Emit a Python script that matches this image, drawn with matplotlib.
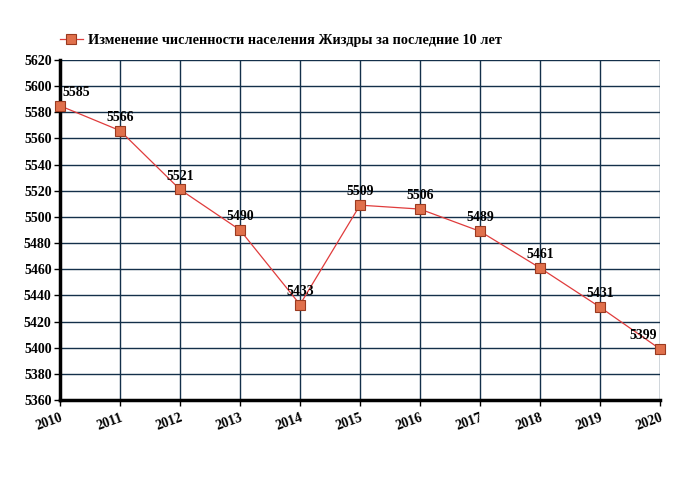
import matplotlib.pyplot as plt

years = [2010, 2011, 2012, 2013, 2014, 2015, 2016, 2017, 2018, 2019, 2020]
population = [5585, 5566, 5521, 5490, 5433, 5509, 5506, 5489, 5461, 5431, 5399]
series_name = "Изменение численности населения Жиздры за последние 10 лет"

plt.rcParams['font.family'] = ['Liberation Serif', 'DejaVu Serif']
plt.rcParams['font.weight'] = 'bold'

fig = plt.figure(figsize=(6.8, 5), dpi=100)
ax = fig.add_axes([60 / 680, 0.2, 600 / 680, 0.68])

ax.plot(years, population, color='#e03c3c', linewidth=0.9, marker='s',
        markersize=6.5, markerfacecolor='#e0704c', markeredgecolor='#9a3a20',
        markeredgewidth=0.8, label=series_name, zorder=3, clip_on=False)

for i, (x, y) in enumerate(zip(years, population)):
    ha = 'center'
    dx = 0
    if i == 0:
        ha = 'left'
        dx = 2
    elif i == len(years) - 1:
        ha = 'right'
        dx = -2
    ax.annotate(str(y), (x, y), xytext=(dx, 5), textcoords='offset points',
                ha=ha, va='bottom', fontsize=10, fontweight='bold', zorder=4)

ax.set_xlim(2010, 2020)
ax.set_ylim(5360, 5620)
ax.set_xticks(years)
ax.set_yticks(range(5360, 5621, 20))
ax.set_xticklabels([str(y) for y in years], rotation=20, ha='right',
                   rotation_mode='anchor', fontsize=10, fontweight='bold')
ax.tick_params(axis='y', labelsize=10, length=4, width=1, pad=2)
ax.tick_params(axis='x', length=4, width=1, pad=4)

ax.grid(True, color='#14304a', linewidth=1.0)
ax.set_axisbelow(True)
ax.spines['left'].set_linewidth(2.5)
ax.spines['bottom'].set_linewidth(2.5)
ax.spines['top'].set_visible(False)
ax.spines['right'].set_visible(False)

leg = fig.legend(loc='upper left', bbox_to_anchor=(54 / 680, 1 - 28 / 500),
                 frameon=False, fontsize=10.3, handlelength=1.6,
                 handletextpad=0.4, borderaxespad=0)
for t in leg.get_texts():
    t.set_fontweight('bold')

fig.savefig('out.png', dpi=100)
